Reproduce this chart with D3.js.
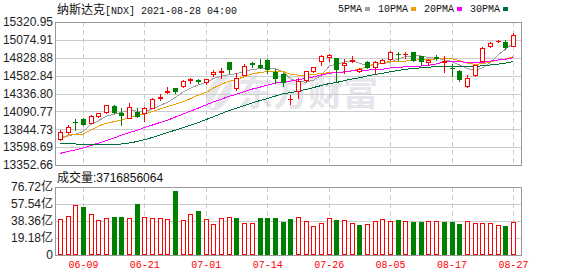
<!DOCTYPE html>
<html>
<head>
<meta charset="utf-8">
<script src="https://cdn.jsdelivr.net/npm/d3@7"></script>
<style>
body { margin: 0; background: #fff; }
svg { display: block; }
</style>
</head>
<body>
<script>
// Data

var dates = ["06-04","06-07","06-08","06-09","06-10","06-11","06-14","06-15","06-16","06-17",
  "06-18","06-21","06-22","06-23","06-24","06-25","06-28","06-29","06-30","07-01",
  "07-02","07-06","07-07","07-08","07-09","07-12","07-13","07-14","07-15","07-16",
  "07-19","07-20","07-21","07-22","07-23","07-26","07-27","07-28","07-29","07-30",
  "08-02","08-03","08-04","08-05","08-06","08-09","08-10","08-11","08-12","08-13",
  "08-16","08-17","08-18","08-19","08-20","08-23","08-24","08-25","08-26","08-27"];

var openP = [13706,13811,13951,13986,13935,14027,14082,14165,14073,14004,
  14086,14064,14141,14272,14353,14408,14440,14525,14517,14499,
  14601,14630,14766,14408,14591,14757,14733,14798,14633,14601,
  14257,14367,14527,14651,14780,14845,14825,14725,14780,14642,
  14770,14697,14761,14816,14885,14881,14908,14849,14770,14839,
  14776,14691,14651,14436,14587,14788,14997,15057,15046,14997];
var highP = [13834,13899,13986,14004,14041,14068,14183,14179,14137,14210,
  14133,14155,14279,14330,14422,14413,14516,14550,14536,14535,
  14660,14692,14770,14615,14736,14775,14808,14808,14670,14615,
  14320,14550,14651,14702,14871,14881,14830,14816,14848,14688,
  14788,14780,14816,14918,14908,14908,14912,14853,14805,14863,
  14848,14743,14656,14596,14733,14981,15042,15077,15073,15165];
var lowP = [13697,13797,13834,13903,13927,14009,14064,14064,13903,13995,
  14009,13962,14133,14247,14344,14340,14433,14485,14485,14463,
  14578,14546,14615,14385,14585,14697,14684,14623,14477,14440,
  14192,14275,14513,14633,14725,14780,14505,14619,14770,14633,
  14688,14605,14752,14802,14802,14825,14780,14733,14733,14802,
  14629,14578,14513,14433,14582,14784,14981,15046,14949,14984];
var closeP = [13811,13876,13945,13913,14027,14064,14174,14082,14037,14155,
  14027,14141,14261,14282,14371,14365,14509,14534,14509,14532,
  14638,14642,14678,14554,14715,14748,14697,14674,14554,14499,
  14265,14505,14642,14697,14853,14860,14678,14757,14794,14678,
  14697,14766,14802,14908,14876,14887,14798,14790,14800,14831,
  14784,14684,14541,14550,14725,14959,15035,15064,14970,15138];

// volume in 亿
var volumes = [40.6,44.0,56.1,54.2,46.3,39.5,41.7,42.9,42.9,41.7,
  57.5,42.9,41.7,41.7,40.6,72.2,39.5,45.9,49.6,40.6,
  34.6,41.4,42.5,41.7,36.1,36.1,41.7,41.7,41.7,37.2,
  40.6,42.9,38.4,32.7,35.8,41.7,39.5,39.5,36.1,33.8,
  35.0,38.4,40.6,38.4,39.5,38.4,37.2,37.2,38.4,38.4,
  37.2,37.2,35.0,38.4,36.1,36.1,36.1,33.8,32.7,37.17];

var ma5 = [13734,13752,13779,13811,13914,13965,14025,14052,14077,14102,
  14095,14088,14124,14173,14216,14285,14359,14413,14459,14491,
  14546,14572,14600,14609,14646,14666,14678,14678,14678,14634,
  14538,14499,14493,14522,14592,14710,14745,14768,14787,14752,
  14721,14738,14747,14770,14810,14848,14854,14853,14830,14821,
  14800,14777,14727,14678,14657,14692,14762,14867,14951,15033];
var ma10 = [13706,13766,13775,13779,13834,13889,13927,13949,13972,14008,
  14030,14057,14088,14125,14159,14190,14224,14269,14316,14354,
  14416,14465,14507,14534,14569,14606,14625,14639,14644,14640,
  14602,14589,14585,14600,14613,14624,14622,14630,14654,14672,
  14715,14742,14758,14779,14781,14784,14796,14800,14800,14815,
  14824,14816,14790,14754,14739,14746,14770,14797,14814,14845];
var ma20 = [13514,13539,13562,13589,13621,13656,13690,13724,13766,13800,
  13830,13869,13903,13938,13972,14013,14055,14096,14137,14181,
  14223,14261,14298,14330,14364,14398,14424,14454,14480,14497,
  14509,14527,14546,14567,14591,14615,14624,14635,14649,14656,
  14659,14665,14671,14689,14697,14704,14709,14715,14727,14744,
  14770,14779,14774,14766,14760,14765,14783,14798,14807,14830];
var ma30 = [13651,13649,13642,13635,13635,13635,13635,13635,13642,13656,
  13676,13704,13731,13766,13800,13834,13869,13903,13938,13979,
  14020,14062,14103,14137,14172,14206,14240,14268,14302,14334,
  14349,14370,14393,14420,14447,14473,14490,14513,14538,14555,
  14578,14599,14617,14637,14654,14671,14681,14690,14699,14709,
  14714,14715,14711,14711,14711,14718,14729,14742,14756,14778];

var priceTicks = [13352.66,13598.69,13844.73,14090.77,14336.80,14582.84,14828.88,15074.91,15320.95];
var volTicks = [0,19.18,38.36,57.54,76.72];
var tickDates = ["06-09","06-21","07-01","07-14","07-26","08-05","08-17","08-27"];

var maNames = ["5PMA","10PMA","20PMA","30PMA"];
var maColors = ["#a0a0a0","#f0a000","#ff00ff","#00703a"];
var titleName = "纳斯达克";
var titleRest = "[NDX] 2021-08-28 04:00";
var lastVolume = "3716856064";

var upColor = "#ff0000", downColor = "#008000";
var sansFont = "'Liberation Sans', Arial, 'Noto Sans CJK SC', sans-serif";
var monoFont = "'Liberation Mono', 'DejaVu Sans Mono', monospace";

// 1. Layout

var plotL = 55, plotR = 521, plotT = 22, plotB = 165;
var volT = 187, volB = 255;

var svg = d3.select("body").append("svg")
    .attr("width", 578)
    .attr("height", 276);

// 2. Scales

var x = d3.scaleBand().domain(dates).range([56.5, 517.3]);
function cx(d) { return x(d) + x.bandwidth() / 2; }
var y = d3.scaleLinear()
    .domain([priceTicks[0], priceTicks[priceTicks.length - 1]])
    .range([plotB, plotT]);
var yv = d3.scaleLinear()
    .domain([0, volTicks[volTicks.length - 1]])
    .range([volB, volT]);

var rows = dates.map(function(d, i) {
  return {
    date: d, o: openP[i], h: highP[i], l: lowP[i], c: closeP[i], v: volumes[i],
    up: closeP[i] >= openP[i],
    volUp: i === 0 ? closeP[i] >= openP[i] : closeP[i] >= closeP[i - 1]
  };
});

// 3. Watermark

var wm = svg.append("g").attr("fill", "#e5e5eb");
wm.append("ellipse")
    .attr("cx", 219).attr("cy", 93).attr("rx", 11).attr("ry", 19)
    .attr("transform", "rotate(28,219,93)");
wm.append("path")
    .attr("d", "M212,108 C216,96 222,86 230,78")
    .attr("stroke", "#fff").attr("stroke-width", 3).attr("fill", "none");
wm.append("text")
    .attr("x", 238).attr("y", 106)
    .attr("font-size", 35).attr("font-weight", "bold")
    .attr("font-family", "'Noto Sans CJK SC', sans-serif")
    .text("东方财富");

// 4. Grid

var grid = svg.append("g").attr("stroke", "#cccccc").attr("shape-rendering", "crispEdges");
grid.selectAll(".hp").data(priceTicks.slice(1, -1)).enter().append("line")
    .attr("x1", plotL).attr("x2", plotR)
    .attr("y1", function(d) { return Math.round(y(d)) + 0.5; })
    .attr("y2", function(d) { return Math.round(y(d)) + 0.5; });
grid.selectAll(".hv").data(volTicks.slice(1, -1)).enter().append("line")
    .attr("x1", plotL).attr("x2", plotR)
    .attr("y1", function(d) { return Math.round(yv(d)) + 0.5; })
    .attr("y2", function(d) { return Math.round(yv(d)) + 0.5; });
[[plotT, plotB], [volT, volB]].forEach(function(r) {
  grid.selectAll(null).data(tickDates).enter().append("line")
      .attr("stroke-dasharray", "5,3")
      .attr("x1", function(d) { return Math.floor(cx(d)) + 0.5; })
      .attr("x2", function(d) { return Math.floor(cx(d)) + 0.5; })
      .attr("y1", r[0]).attr("y2", r[1]);
});

// 5. Moving averages

var maSeries = [ma5, ma10, ma20, ma30];
var line = d3.line()
    .x(function(d, i) { return cx(dates[i]); })
    .y(function(d) { return y(d); });
maSeries.forEach(function(s, k) {
  svg.append("path")
      .attr("d", line(s))
      .attr("fill", "none")
      .attr("stroke", maColors[k])
      .attr("stroke-width", 1)
      .attr("shape-rendering", "crispEdges");
});

// 6. Candles

var candles = svg.selectAll(".candle").data(rows).enter().append("g")
    .attr("class", "candle")
    .attr("shape-rendering", "crispEdges");

candles.append("line")
    .attr("x1", function(d) { return Math.floor(cx(d.date)) + 0.5; })
    .attr("x2", function(d) { return Math.floor(cx(d.date)) + 0.5; })
    .attr("y1", function(d) { return Math.round(y(d.h)); })
    .attr("y2", function(d) { return Math.round(y(d.l)) + 1; })
    .attr("stroke", function(d) { return d.up ? upColor : downColor; });

candles.each(function(d) {
  var g = d3.select(this);
  var px = Math.floor(cx(d.date));
  var top = Math.round(y(Math.max(d.o, d.c)));
  var bot = Math.round(y(Math.min(d.o, d.c)));
  var col = d.up ? upColor : downColor;
  if (bot - top < 1) {
    g.append("line")
        .attr("x1", px - 2).attr("x2", px + 3)
        .attr("y1", top + 0.5).attr("y2", top + 0.5)
        .attr("stroke", col);
  } else if (d.up) {
    g.append("rect")
        .attr("x", px - 1.5).attr("y", top + 0.5)
        .attr("width", 4).attr("height", bot - top)
        .attr("fill", "#fff").attr("stroke", col);
  } else {
    g.append("rect")
        .attr("x", px - 2).attr("y", top)
        .attr("width", 5).attr("height", bot - top + 1)
        .attr("fill", col);
  }
});

// 7. Volume bars

svg.selectAll(".vol").data(rows).enter().append("rect")
    .attr("class", "vol")
    .attr("shape-rendering", "crispEdges")
    .each(function(d) {
      var px = Math.floor(cx(d.date));
      var top = Math.round(yv(d.v));
      var r = d3.select(this);
      if (d.volUp) {
        r.attr("x", px - 1.5).attr("y", top + 0.5)
         .attr("width", 4).attr("height", volB - 1 - top)
         .attr("fill", "#fff").attr("stroke", upColor);
      } else {
        r.attr("x", px - 2).attr("y", top)
         .attr("width", 5).attr("height", volB - top)
         .attr("fill", downColor);
      }
    });

// 8. Frames

[[plotT, plotB], [volT, volB]].forEach(function(r) {
  svg.append("rect")
      .attr("x", plotL + 0.5).attr("y", r[0] + 0.5)
      .attr("width", plotR - plotL).attr("height", r[1] - r[0])
      .attr("fill", "none").attr("stroke", "#999999")
      .attr("shape-rendering", "crispEdges");
});

// 9. Axes

svg.append("g")
    .attr("transform", "translate(" + plotL + ",0)")
    .call(d3.axisLeft(y).tickValues(priceTicks).tickSize(0).tickPadding(2)
      .tickFormat(d3.format(".2f")))
    .call(function(g) { g.select(".domain").remove(); })
    .selectAll("text")
    .attr("font-size", 12).attr("font-family", sansFont).attr("fill", "#222");

svg.append("g")
    .attr("transform", "translate(" + plotL + ",0)")
    .call(d3.axisLeft(yv).tickValues(volTicks).tickSize(0).tickPadding(2)
      .tickFormat(function(d) { return d === 0 ? "0" : d3.format(".2f")(d) + "亿"; }))
    .call(function(g) { g.select(".domain").remove(); })
    .selectAll("text")
    .attr("font-size", 12).attr("font-family", sansFont).attr("fill", "#222");

svg.append("g")
    .attr("transform", "translate(0," + volB + ")")
    .call(d3.axisBottom(x).tickValues(tickDates).tickSize(0).tickPadding(6))
    .call(function(g) { g.select(".domain").remove(); })
    .selectAll("text")
    .attr("font-size", 10).attr("font-family", monoFont).attr("fill", upColor);

// 10. Title, legend and volume label

var title = svg.append("text").attr("x", 57).attr("y", 13.5).attr("fill", "#111");
title.append("tspan").attr("font-size", 12)
    .attr("font-family", "'Noto Sans CJK SC', sans-serif").text(titleName);
title.append("tspan").attr("font-size", 10)
    .attr("font-family", monoFont).text(titleRest);

var lx = 338;
maNames.forEach(function(n, k) {
  svg.append("text")
      .attr("x", lx).attr("y", 12)
      .attr("font-size", 10).attr("font-family", monoFont).attr("fill", "#111")
      .text(n);
  var mx = lx + n.length * 6 + 3;
  svg.append("rect")
      .attr("x", mx).attr("y", 7).attr("width", 5).attr("height", 4)
      .attr("fill", maColors[k]);
  lx = mx + 13;
});

svg.append("text")
    .attr("x", 57).attr("y", 182)
    .attr("font-size", 12).attr("font-family", sansFont).attr("fill", "#111")
    .text("成交量:" + lastVolume);
</script>
</body>
</html>
